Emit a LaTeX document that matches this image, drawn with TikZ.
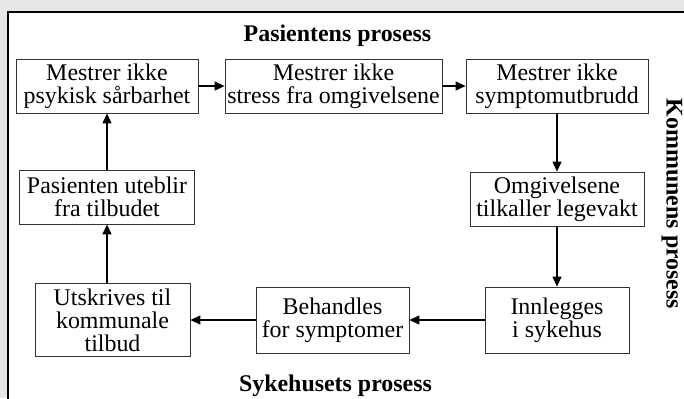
\documentclass[tikz,border=0pt]{standalone}
\usepackage{fontspec}
\setmainfont{Liberation Serif}
\usepackage{tikz}
\usetikzlibrary{arrows.meta}
\definecolor{bggray}{RGB}{229,229,229}
\tikzstyle{process}=[draw=black!80, line width=0.8bp, fill=white, align=center, inner sep=0pt, font=\fontsize{24}{23}\selectfont]
\tikzstyle{flow}=[-{Triangle[length=10bp,width=9bp]}, line width=1.2bp, black]
\tikzstyle{section title}=[font=\fontsize{24}{24}\selectfont\bfseries, anchor=base]
\tikzstyle{frame}=[draw=black, line width=2bp, fill=white]
\begin{document}
\begin{tikzpicture}[x=1bp, y=-1bp]
        % Bakgrunn og ramme
        \useasboundingbox (0,0) rectangle (684,398);
        \fill[bggray] (0,0) rectangle (684,398);
        \draw[frame] (8,12) rectangle (700,412);

        % Overskrifter
        \node[section title] (t_pas) at (337.5,41) {Pasientens prosess};
        \node[section title] (t_syk) at (335.5,391) {Sykehusets prosess};
        \node[section title, rotate=-90] (t_kom) at (666.5,204) {Kommunens prosess};

        % Pasientens prosess
        \node[process, minimum width=182bp, minimum height=54bp] (psyk) at (107,86) {Mestrer ikke\\psykisk sårbarhet};
        \node[process, minimum width=217bp, minimum height=54bp] (stress) at (333.5,86) {Mestrer ikke\\stress fra omgivelsene};
        \node[process, minimum width=182bp, minimum height=54bp] (sympt) at (557,86) {Mestrer ikke\\symptomutbrudd};

        % Kommunens prosess
        \node[process, minimum width=174bp, minimum height=54bp] (legevakt) at (557,199) {Omgivelsene\\tilkaller legevakt};

        % Sykehusets prosess
        \node[process, minimum width=144bp, minimum height=66bp] (innlegg) at (557,320) {Innlegges\\i sykehus};
        \node[process, minimum width=153bp, minimum height=66bp] (behandl) at (332.5,320) {Behandles\\for symptomer};
        \node[process, minimum width=155bp, minimum height=73bp] (utskriv) at (112.5,320) {Utskrives til\\kommunale\\tilbud};

        % Tilbake til pasienten
        \node[process, minimum width=175bp, minimum height=54bp] (uteblir) at (107,197) {Pasienten uteblir\\fra tilbudet};

        % Piler
        \draw[flow] (psyk) -- (stress);
        \draw[flow] (stress) -- (sympt);
        \draw[flow] (sympt) -- (legevakt);
        \draw[flow] (legevakt) -- (innlegg);
        \draw[flow] (innlegg) -- (behandl);
        \draw[flow] (behandl) -- (utskriv);
        \draw[flow] (utskriv.north -| uteblir) -- (uteblir);
        \draw[flow] (uteblir) -- (psyk);
    \end{tikzpicture}
\end{document}
